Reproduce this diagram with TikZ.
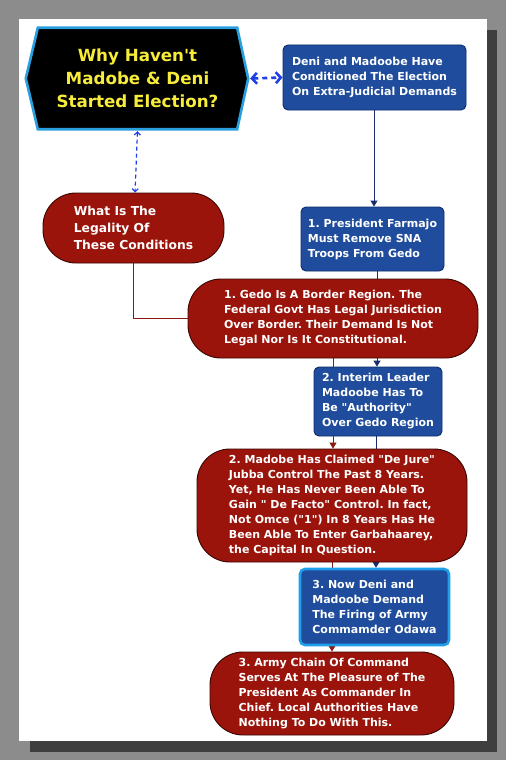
\documentclass[tikz,border=0pt]{standalone}
\usepackage{fontspec}
\setmainfont{DejaVu Sans}[Ligatures=TeXOff]
\usetikzlibrary{arrows.meta}
\pgfdeclarelayer{page}
\pgfdeclarelayer{back}
\pgfsetlayers{page,back,main}
\definecolor{pagegray}{HTML}{8C8C8C}
\definecolor{shadowgray}{HTML}{3E3E3E}
\definecolor{pillred}{HTML}{9A140B}
\definecolor{pillborder}{HTML}{3A0603}
\definecolor{boxblue}{HTML}{1F4C9C}
\definecolor{boxborder}{HTML}{0F2C6A}
\definecolor{hexblue}{HTML}{2A9FDF}
\definecolor{brightblue}{HTML}{1E9EEB}
\definecolor{dashblue}{HTML}{1F3FE6}
\definecolor{navyline}{HTML}{1A2C6E}
\definecolor{redline}{HTML}{8A1A10}
\definecolor{titleyellow}{HTML}{F7EC3A}
\tikzset{
  pill/.style={draw=pillborder, line width=0.9pt, fill=pillred, rounded corners=33pt,
    text=white, align=left, inner sep=0pt, font=\fontsize{11}{15}\selectfont\bfseries},
  bluebox/.style={draw=boxborder, line width=0.9pt, fill=boxblue, rounded corners=5pt,
    text=white, align=left, inner sep=0pt, font=\fontsize{11}{15}\selectfont\bfseries},
  hexlabel/.style={text=titleyellow, align=center, inner sep=0pt,
    font=\fontsize{16.7}{23}\selectfont\bfseries},
  navyconn/.style={draw=navyline, line width=1pt, -{Triangle[length=6pt,width=7pt]}},
  redconn/.style={draw=redline, line width=1pt, -{Triangle[length=6pt,width=7pt]}},
  redplain/.style={draw=redline, line width=1.1pt},
  bigdash/.style={draw=dashblue, line width=2.6pt, dash pattern=on 5pt off 4pt,
    {Straight Barb[length=5pt,width=11pt]}-{Straight Barb[length=5pt,width=11pt]}},
  smalldash/.style={draw=dashblue, line width=1.2pt, dash pattern=on 4pt off 3pt,
    {Straight Barb[length=3pt,width=6pt]}-{Straight Barb[length=3pt,width=6pt]}}
}
\frenchspacing
\begin{document}
\begin{tikzpicture}[x=1pt,y=-1pt]
\useasboundingbox (0,0) rectangle (506,760);
% page background
\begin{pgfonlayer}{page}
\fill[pagegray] (0,0) rectangle (506,760);
\fill[shadowgray] (30,30) rectangle (497,752);
\fill[white] (19,19) rectangle (487,741);
\end{pgfonlayer}

% hexagon title
\node[hexlabel, minimum width=199pt, minimum height=101pt] (q) at (137.5,78.5)
  {Why Haven't\\Madobe \& Deni\\Started Election?};
\begin{pgfonlayer}{back}
\draw[fill=black, draw=hexblue, line width=2.6pt]
  (q.north west) -- (q.north east) -- ([xshift=11pt]q.east) -- (q.south east)
  -- (q.south west) -- ([xshift=-12pt]q.west) -- cycle;
\end{pgfonlayer}

% blue chain
\node[bluebox, minimum width=183pt, minimum height=65pt] (b1) at (374.5,77.5)
  {Deni and Madoobe Have\\Conditioned The Election\\On Extra-Judicial Demands};
\node[bluebox, minimum width=143pt, minimum height=64pt] (b2) at (372.5,239)
  {1. President Farmajo\\Must Remove SNA\\Troops From Gedo};
\node[bluebox, minimum width=128pt, minimum height=69pt] (b3) at (378,401.5)
  {2. Interim Leader\\Madoobe Has To\\Be "Authority"\\Over Gedo Region};
\node[bluebox, draw=brightblue, line width=2.6pt, minimum width=149pt, minimum height=76pt] (b4) at (374.5,607)
  {3. Now Deni and\\Madoobe Demand\\The Firing of Army\\Commamder Odawa};

% red chain
\node[pill, minimum width=181pt, minimum height=70pt, font=\fontsize{12.3}{17}\selectfont\bfseries] (p1) at (133.5,228)
  {What Is The\\Legality Of\\These Conditions};
\node[pill, minimum width=290pt, minimum height=79pt] (p2) at (333,318.5)
  {1. Gedo Is A Border Region. The\\Federal Govt Has Legal Jurisdiction\\Over Border. Their Demand Is Not\\Legal Nor Is It Constitutional.};
\node[pill, minimum width=270pt, minimum height=113pt] (p3) at (332,505.5)
  {2. Madobe Has Claimed "De Jure"\\Jubba Control The Past 8 Years.\\Yet, He Has Never Been Able To\\Gain " De Facto" Control. In fact,\\Not Omce ("1") In 8 Years Has He\\Been Able To Enter Garbahaarey,\\the Capital In Question.};
\node[pill, minimum width=244pt, minimum height=83pt] (p4) at (332,693.5)
  {3. Army Chain Of Command\\Serves At The Pleasure of The\\President As Commander In\\Chief. Local Authorities Have\\Nothing To Do With This.};

% connectors (behind nodes)
\begin{pgfonlayer}{back}
\draw[navyconn] ([xshift=-0.5pt]b1.south) -- ([xshift=-0.5pt]b1.south |- b2.north);
\draw[navyconn] ([xshift=-1pt]b3.north |- b2.south) -- ([xshift=-1pt]b3.north);
\draw[navyconn] ([xshift=1.5pt]b4.north |- b3.south) -- ([xshift=1.5pt]b4.north);
\draw[redplain] (p1.south) |- (p2.west);
\draw[redconn] (p2.south) -- (p2.south |- p3.north);
\draw[redconn] (p3.south) -- (p4.north);
\end{pgfonlayer}
\draw[bigdash] ([xshift=13pt]q.east) -- (b1.west);
\draw[smalldash] ([yshift=-2pt]q.south) -- ([xshift=1.5pt]p1.north);
\end{tikzpicture}
\end{document}
